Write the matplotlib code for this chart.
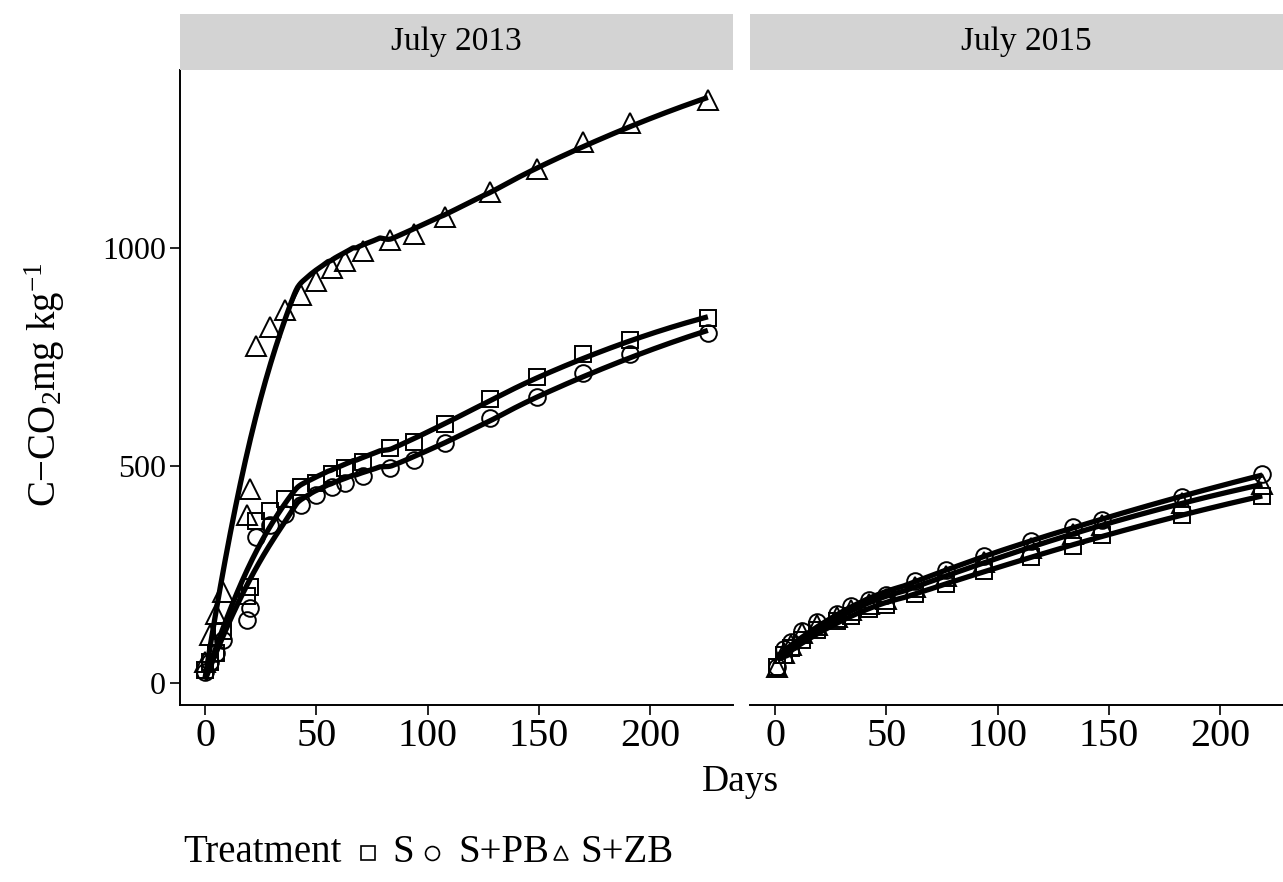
import numpy as np
import matplotlib
matplotlib.use("Agg")
import matplotlib.pyplot as plt
from matplotlib.lines import Line2D

plt.rcParams['font.family'] = ['Liberation Serif', 'DejaVu Serif']
plt.rcParams['mathtext.fontset'] = 'custom'
plt.rcParams['mathtext.rm'] = 'Liberation Serif'
plt.rcParams['mathtext.it'] = 'Liberation Serif:italic'

# ---------------- data ----------------
panels = ["July 2013", "July 2015"]
treatments = ["S", "S+PB", "S+ZB"]

days_2013 = [0, 2, 5, 8, 19, 20, 23, 29, 36, 43, 50, 57, 63, 71, 83, 94, 108, 128, 149, 170, 191, 226]
s_2013 = [30, 50, 70, 120, 200, 221, 372, 395, 424, 451, 461, 480, 494, 508, 541, 555, 597, 653, 705, 757, 789, 839]
spb_2013 = [25, 48, 70, 99, 145, 172, 336, 363, 390, 409, 433, 452, 461, 476, 494, 513, 552, 611, 658, 714, 757, 805]
szb_2013 = [50, 110, 160, 210, 386, 447, 775, 820, 858, 893, 925, 954, 970, 993, 1019, 1033, 1073, 1130, 1183, 1245, 1287, 1341]

days_2015 = [1, 4, 7, 12, 19, 28, 34, 42, 50, 63, 77, 94, 115, 134, 147, 183, 219]
s_2015 = [38, 65, 80, 100, 122, 143, 155, 170, 180, 205, 228, 258, 290, 315, 340, 388, 430]
spb_2015 = [38, 78, 95, 120, 140, 160, 177, 192, 203, 236, 260, 292, 327, 359, 375, 428, 480]
szb_2015 = [38, 70, 88, 115, 133, 152, 168, 182, 193, 222, 247, 278, 312, 343, 365, 414, 457]

data = {
    "July 2013": (days_2013, {"S": s_2013, "S+PB": spb_2013, "S+ZB": szb_2013}),
    "July 2015": (days_2015, {"S": s_2015, "S+PB": spb_2015, "S+ZB": szb_2015}),
}
markers = {"S": "s", "S+PB": "o", "S+ZB": "^"}
msize = {"S": 12, "S+PB": 12, "S+ZB": 14}
spans = {"July 2013": 0.68, "July 2015": 0.75}


def loess(x, y, xg, span=0.75, deg=2):
    x = np.asarray(x, float)
    y = np.asarray(y, float)
    n = len(x)
    k = int(np.ceil(span * n))
    out = []
    for x0 in xg:
        d = np.abs(x - x0)
        idx = np.argsort(d)[:k]
        h = d[idx].max() * 1.0001
        w = (1 - (d[idx] / h) ** 3) ** 3
        w = np.clip(w, 1e-6, None)
        c = np.polyfit(x[idx], y[idx], deg, w=np.sqrt(w))
        out.append(np.polyval(c, x0))
    return np.array(out)


# ---------------- figure ----------------
W, H = 1283, 882
fig = plt.figure(figsize=(W / 100, H / 100), dpi=100)

def fx(px):
    return px / W

def fy(py):
    return 1 - py / H

panel_left = [180, 750]
panel_w = 553
top, bottom = 70, 705
strip_top = 14

for i, name in enumerate(panels):
    ax = fig.add_axes([fx(panel_left[i]), fy(bottom), panel_w / W, (bottom - top) / H])
    sax = fig.add_axes([fx(panel_left[i]), fy(top), panel_w / W, (top - strip_top) / H])
    sax.set_facecolor('#d3d3d3')
    sax.set_xticks([]); sax.set_yticks([])
    for sp in sax.spines.values():
        sp.set_visible(False)
    sax.text(0.5, 0.5, name, ha='center', va='center', fontsize=24, transform=sax.transAxes)

    days, series = data[name]
    xg = np.linspace(min(days), max(days), 300)
    for t in treatments:
        yv = series[t]
        ax.plot(xg, loess(days, yv, xg, span=spans[name]), color='black', lw=3.8,
                solid_capstyle='butt', zorder=3)
        ax.plot(days, yv, linestyle='none', marker=markers[t], ms=msize[t],
                mfc='none', mec='black', mew=1.4, zorder=2)

    ax.set_xlim(-11.3, 237.3)
    ax.set_ylim(-50, 1410)
    ax.set_xticks([0, 50, 100, 150, 200])
    ax.spines['top'].set_visible(False)
    ax.spines['right'].set_visible(False)
    ax.spines['bottom'].set_linewidth(1.4)
    ax.spines['left'].set_linewidth(1.4)
    ax.tick_params(axis='both', length=7, width=1.2, pad=3, colors='black')
    ax.tick_params(axis='x', labelsize=29, pad=2)
    ax.tick_params(axis='y', labelsize=23)
    if i == 0:
        ax.set_yticks([0, 500, 1000])
    else:
        ax.spines['left'].set_visible(False)
        ax.set_yticks([])

fig.text(fx(740), fy(782), "Days", ha='center', va='center', fontsize=27)
fig.text(fx(45), fy(385), "C\u2212CO$_2$mg kg$^{-1}$", ha='center', va='center',
         rotation=90, fontsize=28)

# legend (bottom)
ly = fy(853)
fig.text(fx(183), ly, "Treatment", ha='left', va='center', fontsize=28)
leg_items = [("S", 368, 392), ("S+PB", 432, 458), ("S+ZB", 561, 580)]
for t, mx, tx in leg_items:
    fig.add_artist(Line2D([fx(mx)], [ly], transform=fig.transFigure, linestyle='none',
                          marker=markers[t], ms=10, mfc='none', mec='black', mew=1.2))
    fig.text(fx(tx), ly, t, ha='left', va='center', fontsize=28)

fig.savefig("out.png", dpi=100)
